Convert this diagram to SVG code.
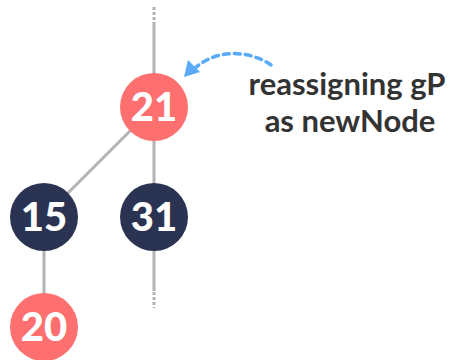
<svg xmlns="http://www.w3.org/2000/svg" width="450" height="360" viewBox="0 0 450 360">
  <defs>
    <style>
      .edge { stroke: #b3b3b3; stroke-width: 3; fill: none; }
      .dots { stroke: #b3b3b3; stroke-width: 3; fill: none; stroke-dasharray: 3 2; }
      .red { fill: #fe6f6f; }
      .navy { fill: #2a3452; }
      .num { fill: #ffffff; font-family: Lato, "Liberation Sans", sans-serif; font-weight: 900; font-size: 40px; text-anchor: middle; }
      .label { fill: #333333; font-family: Lato, "Liberation Sans", sans-serif; font-weight: 700; font-size: 31px; text-anchor: middle; }
    </style>
  </defs>

  <!-- connectors -->
  <g id="connectors">
    <path class="dots" d="M154,7 V25"/>
    <path class="edge" d="M154,25 V107"/>
    <path class="edge" d="M154,107 L44,217"/>
    <path class="edge" d="M154,107 V291"/>
    <path class="dots" d="M154,292 V308"/>
    <path class="edge" d="M44,217 V327"/>
    <path d="M271,65 C250,50 215,48 193,70" stroke="#5aabf7" stroke-width="3.5" fill="none" stroke-dasharray="6 5" stroke-linecap="round"/>
    <path d="M184,77 L188,60 L200,72 z" fill="#5aabf7"/>
  </g>

  <g id="node-21">
    <circle class="red" cx="154" cy="107" r="34"/>
    <text class="num" x="154" y="121">21</text>
  </g>
  <g id="node-15">
    <circle class="navy" cx="44" cy="217" r="34"/>
    <text class="num" x="44" y="231">15</text>
  </g>
  <g id="node-31">
    <circle class="navy" cx="154" cy="217" r="34"/>
    <text class="num" x="154" y="231">31</text>
  </g>
  <g id="node-20">
    <circle class="red" cx="44" cy="327" r="34"/>
    <text class="num" x="44" y="341">20</text>
  </g>

  <g id="label">
    <text class="label" x="347" y="95">reassigning gP</text>
    <text class="label" x="350" y="132">as newNode</text>
  </g>
</svg>
